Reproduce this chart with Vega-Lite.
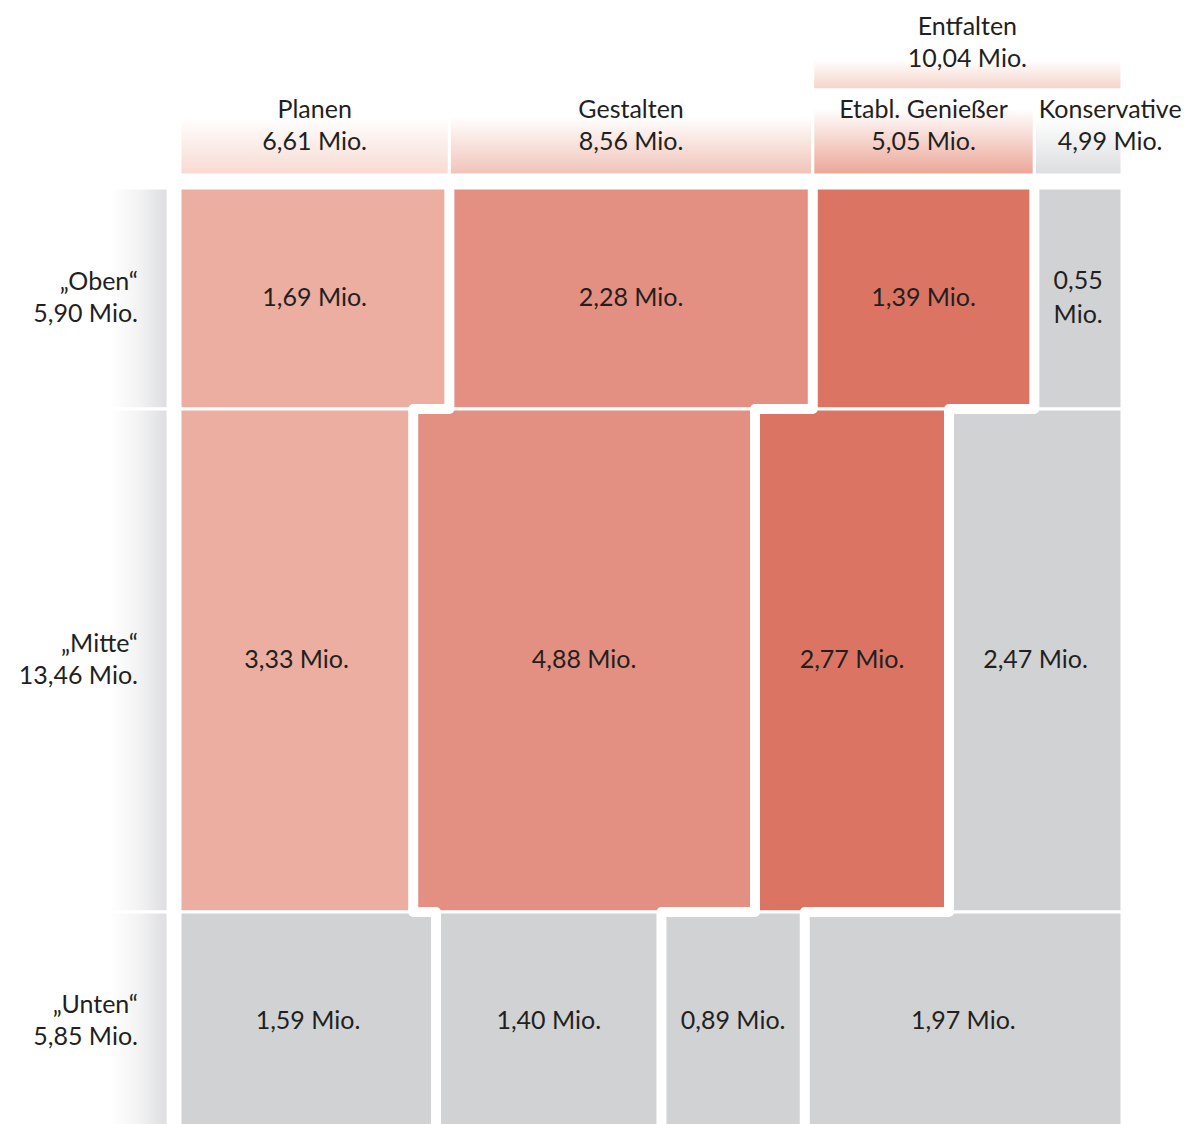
{
  "$schema": "https://vega.github.io/schema/vega-lite/v6.json",
  "width": 1184,
  "height": 1124,
  "autosize": {"type": "none"},
  "padding": 0,
  "background": "white",
  "config": {
    "view": {"stroke": null},
    "text": {"font": "Lato", "fontSize": 25, "color": "#231F20", "lineHeight": 32, "lineBreak": "\n", "baseline": "middle"}
  },
  "data": {
    "values": [
      {"row": "Oben", "ri": 1, "ci": 1, "col": "Planen", "value": 1.69, "label": "1,69 Mio.", "typ": "Planen", "rowLabel": "„Oben“\n5,90 Mio.", "colLabel": "Planen\n6,61 Mio."},
      {"row": "Oben", "ri": 1, "ci": 2, "col": "Gestalten", "value": 2.28, "label": "2,28 Mio.", "typ": "Gestalten", "rowLabel": "„Oben“\n5,90 Mio.", "colLabel": "Gestalten\n8,56 Mio."},
      {"row": "Oben", "ri": 1, "ci": 3, "col": "Etabl. Genießer", "value": 1.39, "label": "1,39 Mio.", "typ": "Etabl", "rowLabel": "„Oben“\n5,90 Mio.", "colLabel": "Etabl. Genießer\n5,05 Mio."},
      {"row": "Oben", "ri": 1, "ci": 4, "col": "Konservative", "value": 0.55, "label": "0,55\nMio.", "typ": "Rest", "rowLabel": "„Oben“\n5,90 Mio.", "colLabel": "Konservative\n4,99 Mio."},
      {"row": "Mitte", "ri": 2, "ci": 1, "col": "Planen", "value": 3.33, "label": "3,33 Mio.", "typ": "Planen", "rowLabel": "„Mitte“\n13,46 Mio.", "colLabel": "Planen\n6,61 Mio."},
      {"row": "Mitte", "ri": 2, "ci": 2, "col": "Gestalten", "value": 4.88, "label": "4,88 Mio.", "typ": "Gestalten", "rowLabel": "„Mitte“\n13,46 Mio.", "colLabel": "Gestalten\n8,56 Mio."},
      {"row": "Mitte", "ri": 2, "ci": 3, "col": "Etabl. Genießer", "value": 2.77, "label": "2,77 Mio.", "typ": "Etabl", "rowLabel": "„Mitte“\n13,46 Mio.", "colLabel": "Etabl. Genießer\n5,05 Mio."},
      {"row": "Mitte", "ri": 2, "ci": 4, "col": "Konservative", "value": 2.47, "label": "2,47 Mio.", "typ": "Rest", "rowLabel": "„Mitte“\n13,46 Mio.", "colLabel": "Konservative\n4,99 Mio."},
      {"row": "Unten", "ri": 3, "ci": 1, "col": "Planen", "value": 1.59, "label": "1,59 Mio.", "typ": "Rest", "rowLabel": "„Unten“\n5,85 Mio.", "colLabel": "Planen\n6,61 Mio."},
      {"row": "Unten", "ri": 3, "ci": 2, "col": "Gestalten", "value": 1.40, "label": "1,40 Mio.", "typ": "Rest", "rowLabel": "„Unten“\n5,85 Mio.", "colLabel": "Gestalten\n8,56 Mio."},
      {"row": "Unten", "ri": 3, "ci": 3, "col": "Etabl. Genießer", "value": 0.89, "label": "0,89 Mio.", "typ": "Rest", "rowLabel": "„Unten“\n5,85 Mio.", "colLabel": "Etabl. Genießer\n5,05 Mio."},
      {"row": "Unten", "ri": 3, "ci": 4, "col": "Konservative", "value": 1.97, "label": "1,97 Mio.", "typ": "Rest", "rowLabel": "„Unten“\n5,85 Mio.", "colLabel": "Konservative\n4,99 Mio."}
    ]
  },
  "transform": [
    {"stack": "value", "groupby": ["row"], "sort": [{"field": "ci"}], "offset": "normalize", "as": ["x0", "x1"]},
    {"window": [{"op": "sum", "field": "value", "as": "cum"}], "sort": [{"field": "ri"}, {"field": "ci"}], "frame": [null, 0]},
    {"joinaggregate": [{"op": "max", "field": "cum", "as": "y1"}, {"op": "sum", "field": "value", "as": "rs"}], "groupby": ["row"]},
    {"calculate": "datum.y1 - datum.rs", "as": "y0"},
    {"calculate": "(datum.x0 + datum.x1) / 2", "as": "xm"},
    {"calculate": "(datum.y0 + datum.y1) / 2", "as": "ym"}
  ],
  "layer": [
    {
      "transform": [{"filter": "datum.ci == 1"}],
      "mark": {"type": "rect", "stroke": "white", "strokeWidth": 3,
        "fill": {"gradient": "linear", "x1": 0, "y1": 0, "x2": 1, "y2": 0,
          "stops": [{"offset": 0, "color": "#FFFFFF"}, {"offset": 0.5, "color": "#F3F3F4"}, {"offset": 1, "color": "#DCDDE0"}]}},
      "encoding": {
        "x": {"datum": -0.0743, "type": "quantitative", "scale": {"domain": [-0.19108, 1.06582], "nice": false, "zero": false}, "axis": null},
        "x2": {"datum": -0.0127},
        "y": {"field": "y0", "type": "quantitative", "scale": {"domain": [-5.027, 25.03], "reverse": true, "nice": false, "zero": false}, "axis": null},
        "y2": {"field": "y1"}
      }
    },
    {
      "mark": {"type": "rect", "stroke": "white", "strokeWidth": 3},
      "encoding": {
        "x": {"field": "x0", "type": "quantitative"},
        "x2": {"field": "x1"},
        "y": {"field": "y0", "type": "quantitative"},
        "y2": {"field": "y1"},
        "color": {"field": "typ", "type": "nominal", "legend": null,
          "scale": {"domain": ["Planen", "Gestalten", "Etabl", "Rest"], "range": ["#EBAEA0", "#E39082", "#DC7464", "#D1D2D4"]}}
      }
    },
    {
      "transform": [
        {"filter": "datum.ci <= 3"},
        {"fold": ["y0", "y1"], "as": ["k", "yy"]},
        {"calculate": "datum.ri * 2 + (datum.k == 'y1' ? 1 : 0)", "as": "ord"}
      ],
      "mark": {"type": "line", "stroke": "white", "strokeWidth": 10, "strokeJoin": "round", "strokeCap": "butt"},
      "encoding": {
        "x": {"field": "x1", "type": "quantitative"},
        "y": {"field": "yy", "type": "quantitative"},
        "detail": {"field": "ci", "type": "nominal"},
        "order": {"field": "ord", "type": "quantitative"}
      }
    },
    {
      "transform": [{"filter": "datum.ri == 1 && datum.ci == 1"}],
      "mark": {"type": "rect", "stroke": "white", "strokeWidth": 3,
        "fill": {"gradient": "linear", "x1": 0, "y1": 0, "x2": 0, "y2": 1,
          "stops": [{"offset": 0, "color": "#FFFFFF"}, {"offset": 0.3, "color": "#FFFFFF"}, {"offset": 1, "color": "#F7DAD1"}]}},
      "encoding": {
        "x": {"field": "x0", "type": "quantitative"},
        "x2": {"field": "x1"},
        "y": {"datum": -2.56, "type": "quantitative"},
        "y2": {"datum": -0.348}
      }
    },
    {
      "transform": [{"filter": "datum.ri == 1 && datum.ci == 2"}],
      "mark": {"type": "rect", "stroke": "white", "strokeWidth": 3,
        "fill": {"gradient": "linear", "x1": 0, "y1": 0, "x2": 0, "y2": 1,
          "stops": [{"offset": 0, "color": "#FFFFFF"}, {"offset": 0.3, "color": "#FFFFFF"}, {"offset": 1, "color": "#F0C2B6"}]}},
      "encoding": {
        "x": {"field": "x0", "type": "quantitative"},
        "x2": {"field": "x1"},
        "y": {"datum": -2.56, "type": "quantitative"},
        "y2": {"datum": -0.348}
      }
    },
    {
      "transform": [{"filter": "datum.ri == 1 && datum.ci == 3"}],
      "mark": {"type": "rect", "stroke": "white", "strokeWidth": 3,
        "fill": {"gradient": "linear", "x1": 0, "y1": 0, "x2": 0, "y2": 1,
          "stops": [{"offset": 0, "color": "#FFFFFF"}, {"offset": 0.2, "color": "#FFFFFF"}, {"offset": 1, "color": "#EBA596"}]}},
      "encoding": {
        "x": {"field": "x0", "type": "quantitative"},
        "x2": {"field": "x1"},
        "y": {"datum": -2.56, "type": "quantitative"},
        "y2": {"datum": -0.348}
      }
    },
    {
      "transform": [{"filter": "datum.ri == 1 && datum.ci == 4"}],
      "mark": {"type": "rect", "stroke": "white", "strokeWidth": 3,
        "fill": {"gradient": "linear", "x1": 0, "y1": 0, "x2": 0, "y2": 1,
          "stops": [{"offset": 0, "color": "#FFFFFF"}, {"offset": 0.3, "color": "#FFFFFF"}, {"offset": 1, "color": "#DCDDE0"}]}},
      "encoding": {
        "x": {"field": "x0", "type": "quantitative"},
        "x2": {"field": "x1"},
        "y": {"datum": -2.56, "type": "quantitative"},
        "y2": {"datum": -0.348}
      }
    },
    {
      "transform": [
        {"filter": "datum.ri == 1 && datum.ci >= 3"},
        {"aggregate": [{"op": "min", "field": "x0", "as": "ex0"}, {"op": "max", "field": "x1", "as": "ex1"}]},
        {"calculate": "(datum.ex0 + datum.ex1) / 2", "as": "exm"}
      ],
      "layer": [
        {
          "mark": {"type": "rect", "stroke": "white", "strokeWidth": 3,
            "fill": {"gradient": "linear", "x1": 0, "y1": 0, "x2": 0, "y2": 1,
              "stops": [{"offset": 0, "color": "#FFFFFF"}, {"offset": 0.4, "color": "#FFFFFF"}, {"offset": 1, "color": "#F5D2C8"}]}},
          "encoding": {
            "x": {"field": "ex0", "type": "quantitative"},
            "x2": {"field": "ex1"},
            "y": {"datum": -3.96, "type": "quantitative"},
            "y2": {"datum": -2.63}
          }
        },
        {
          "mark": {"type": "text", "align": "center", "dy": -16},
          "encoding": {
            "x": {"field": "exm", "type": "quantitative"},
            "y": {"datum": -3.877, "type": "quantitative"},
            "text": {"value": ["Entfalten", "10,04 Mio."]}
          }
        }
      ]
    },
    {
      "transform": [{"filter": "datum.ri == 1 && datum.ci <= 3"}],
      "mark": {"type": "text", "align": "center", "dy": -16},
      "encoding": {
        "x": {"field": "xm", "type": "quantitative"},
        "y": {"datum": -1.658, "type": "quantitative"},
        "text": {"field": "colLabel"}
      }
    },
    {
      "transform": [{"filter": "datum.ri == 1 && datum.ci == 4"}],
      "mark": {"type": "text", "align": "center", "dx": 32, "dy": -16},
      "encoding": {
        "x": {"field": "xm", "type": "quantitative"},
        "y": {"datum": -1.658, "type": "quantitative"},
        "text": {"field": "colLabel"}
      }
    },
    {
      "transform": [{"filter": "indexof(datum.label, '\\n') < 0"}],
      "mark": {"type": "text", "align": "center"},
      "encoding": {
        "x": {"field": "xm", "type": "quantitative"},
        "y": {"field": "ym", "type": "quantitative"},
        "text": {"field": "label"}
      }
    },
    {
      "transform": [{"filter": "indexof(datum.label, '\\n') >= 0"}],
      "mark": {"type": "text", "align": "center", "lineHeight": 34, "dy": -17},
      "encoding": {
        "x": {"field": "xm", "type": "quantitative"},
        "y": {"field": "ym", "type": "quantitative"},
        "text": {"field": "label"}
      }
    },
    {
      "transform": [{"filter": "datum.ci == 1"}],
      "mark": {"type": "text", "align": "right", "dy": -16},
      "encoding": {
        "x": {"datum": -0.0446, "type": "quantitative"},
        "y": {"field": "ym", "type": "quantitative"},
        "text": {"field": "rowLabel"}
      }
    }
  ]
}
